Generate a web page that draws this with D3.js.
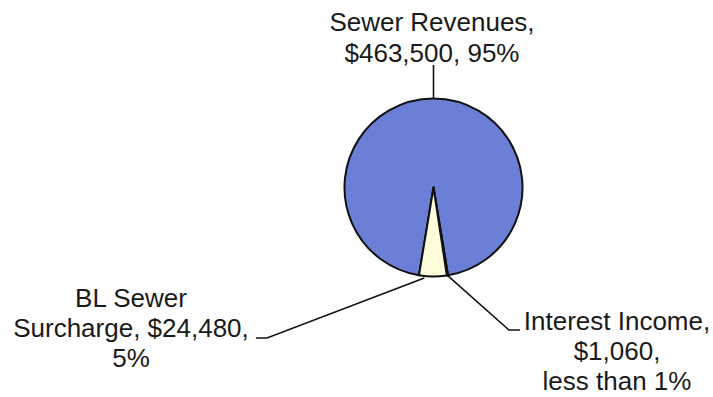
<!DOCTYPE html>
<html>
<head>
<meta charset="utf-8">
<script src="https://cdn.jsdelivr.net/npm/d3@7"></script>
<style>
  html, body { margin: 0; padding: 0; background: #ffffff; }
  svg { display: block; }
  text { font-family: "Liberation Sans", Arial, sans-serif; fill: #1a1a1a; }
</style>
</head>
<body>
<svg id="chart" width="713" height="397"></svg>
<script>
// Revenue sources
const categories = ["Sewer Revenues", "Interest Income", "BL Sewer Surcharge"];
const amounts = [463500, 1060, 24480];
const amountLabels = ["$463,500", "$1,060", "$24,480"];
const shareLabels = ["95%", "less than 1%", "5%"];

const labelLines = [
  ["Sewer Revenues,", "$463,500, 95%"],
  ["Interest Income,", "$1,060,", "less than 1%"],
  ["BL Sewer", "Surcharge, $24,480,", "5%"]
];

const colors = ["#6c7fd6", "#fdfddb", "#fdfddb"];

const W = 713, H = 397;
const cx = 433.5, cy = 187.5, R = 89;

const svg = d3.select("#chart");
const g = svg.append("g").attr("transform", `translate(${cx},${cy})`);

// Sewer Revenues centred at 12 o'clock
const total = d3.sum(amounts);
const firstSpan = amounts[0] / total * 2 * Math.PI;
const start = -firstSpan / 2;

const pie = d3.pie().sort(null).value(d => d)
  .startAngle(start).endAngle(start + 2 * Math.PI);
const arcs = pie(amounts);

const arc = d3.arc().innerRadius(0).outerRadius(R);

g.selectAll("path.slice")
  .data(arcs)
  .join("path")
  .attr("class", "slice")
  .attr("d", arc)
  .attr("fill", (d, i) => colors[i])
  .attr("stroke", "#111")
  .attr("stroke-width", 2)
  .attr("stroke-linejoin", "round");

// point on the rim at a given fraction of a slice's span
function rimPoint(d, frac, r) {
  const a = d.startAngle + (d.endAngle - d.startAngle) * frac;
  return [cx + r * Math.sin(a), cy - r * Math.cos(a)];
}

const fs = 26;

// leader lines
const line = d3.line();
const p0 = rimPoint(arcs[0], 0.5, R);
const p1 = rimPoint(arcs[1], 0.5, R);
const p2 = rimPoint(arcs[2], 0.8, R + 2);

const leaders = [
  [[p0[0], 65], p0],
  [p1, [509, 330], [520, 330]],
  [p2, [267, 338], [256, 338]]
];

svg.selectAll("path.leader")
  .data(leaders)
  .join("path")
  .attr("class", "leader")
  .attr("d", d => line(d))
  .attr("fill", "none")
  .attr("stroke", "#111")
  .attr("stroke-width", 1.6);

// labels
const labelPos = [
  { x: 432, y: 31, lh: 31 },
  { x: 617, y: 330, lh: 30 },
  { x: 131, y: 307, lh: 30 }
];

labelLines.forEach((lines, i) => {
  const t = svg.append("text")
    .attr("text-anchor", "middle")
    .attr("font-size", fs);
  lines.forEach((s, j) => {
    t.append("tspan")
      .attr("x", labelPos[i].x)
      .attr("y", labelPos[i].y + j * labelPos[i].lh)
      .text(s);
  });
});
</script>
</body>
</html>
